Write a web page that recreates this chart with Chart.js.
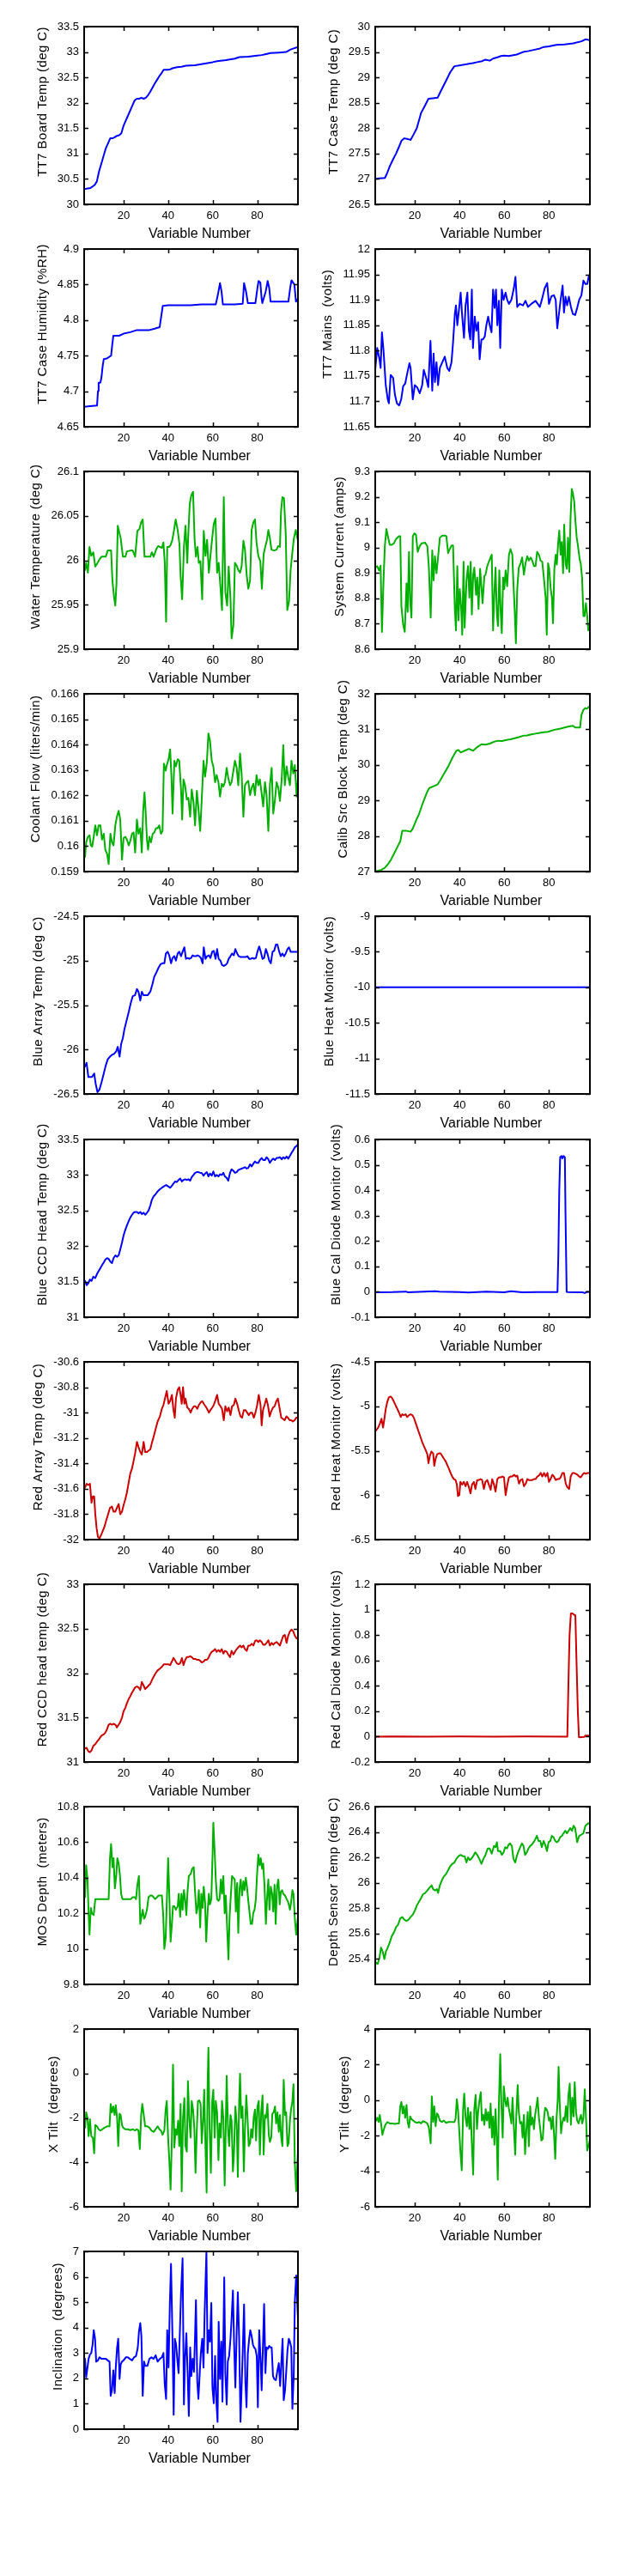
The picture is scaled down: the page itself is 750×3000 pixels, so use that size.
<!DOCTYPE html>
<html>
<head>
<meta charset="utf-8">
<script src="https://cdn.jsdelivr.net/npm/chart.js@4/dist/chart.umd.min.js"></script>
<style>
html,body{margin:0;padding:0;background:#fff;}
body{position:relative;width:750px;height:3000px;overflow:hidden;}
canvas{position:absolute;}
</style>
</head>
<body>
<script>
// ---------- axis ticks / labels ----------
const xTickValues = [20, 40, 60, 80];
const xAxisTitle = 'Variable Number';

const boardTempTicks = [30, 30.5, 31, 31.5, 32, 32.5, 33, 33.5];
const caseTempTicks = [26.5, 27, 27.5, 28, 28.5, 29, 29.5, 30];
const humidityTicks = [4.65, 4.7, 4.75, 4.8, 4.85, 4.9];
const mainsTicks = [11.65, 11.7, 11.75, 11.8, 11.85, 11.9, 11.95, 12];
const waterTicks = [25.9, 25.95, 26, 26.05, 26.1];
const currentTicks = [8.6, 8.7, 8.8, 8.9, 9, 9.1, 9.2, 9.3];
const coolantTicks = [0.159, 0.16, 0.161, 0.162, 0.163, 0.164, 0.165, 0.166];
const calibTicks = [27, 28, 29, 30, 31, 32];
const blueArrayTicks = [-26.5, -26, -25.5, -25, -24.5];
const blueHeatTicks = [-11.5, -11, -10.5, -10, -9.5, -9];
const blueCcdTicks = [31, 31.5, 32, 32.5, 33, 33.5];
const blueCalTicks = [-0.1, 0, 0.1, 0.2, 0.3, 0.4, 0.5, 0.6];
const redArrayTicks = [-32, -31.8, -31.6, -31.4, -31.2, -31, -30.8, -30.6];
const redHeatTicks = [-6.5, -6, -5.5, -5, -4.5];
const redCcdTicks = [31, 31.5, 32, 32.5, 33];
const redCalTicks = [-0.2, 0, 0.2, 0.4, 0.6, 0.8, 1, 1.2];
const mosTicks = [9.8, 10, 10.2, 10.4, 10.6, 10.8];
const depthTempTicks = [25.4, 25.6, 25.8, 26, 26.2, 26.4, 26.6];
const xTiltTicks = [-6, -4, -2, 0, 2];
const yTiltTicks = [-6, -4, -2, 0, 2, 4];
const inclinationTicks = [0, 1, 2, 3, 4, 5, 6, 7];

// ---------- series: [variable number, value] ----------
const boardTemp = [[2.3,30.3],[5,30.32],[7,30.38],[8,30.45],[9,30.65],[10,30.8],[11,30.95],[12,31.1],[13,31.2],[14,31.3],[15,31.3],[16,31.32],[17,31.35],[18,31.36],[19,31.4],[20,31.55],[21,31.65],[22,31.75],[23,31.85],[24,31.95],[25,32.05],[26,32.08],[27,32.08],[28,32.1],[29,32.08],[30,32.1],[31,32.15],[32,32.22],[33,32.3],[34,32.38],[35,32.45],[36,32.52],[37,32.58],[38,32.65],[40,32.65],[41,32.66],[42,32.68],[44,32.7],[46,32.71],[48,32.73],[52,32.74],[56,32.77],[60,32.8],[62,32.82],[66,32.84],[70,32.87],[72,32.9],[76,32.91],[80,32.93],[82,32.94],[84,32.96],[86,32.98],[90,32.99],[93,33.0],[95,33.05],[98.3,33.1]];

const caseTemp = [[2.3,27.0],[4,27.01],[6.6,27.02],[7.5,27.1],[8.8,27.25],[10.2,27.38],[11.6,27.5],[12.8,27.62],[14,27.75],[15.3,27.8],[16.5,27.79],[18.1,27.77],[19.5,27.88],[20.9,28.0],[22.8,28.3],[24.6,28.45],[26.1,28.58],[28,28.59],[30.2,28.6],[31.5,28.72],[33,28.85],[34.5,28.98],[35.8,29.1],[37.7,29.22],[40.5,29.24],[42,29.25],[44.2,29.27],[46,29.28],[47.9,29.3],[50,29.32],[51.6,29.35],[53.5,29.33],[55,29.37],[57.2,29.4],[58.5,29.42],[60,29.43],[62,29.42],[65.6,29.45],[68.4,29.5],[71,29.52],[74,29.55],[76,29.57],[77.7,29.6],[80,29.61],[83.3,29.64],[87,29.65],[90.8,29.67],[94.5,29.71],[96.3,29.75],[97.5,29.74],[98.3,29.73]];

const humidity = [[2.3,4.678],[5,4.679],[8.1,4.68],[8.5,4.7],[8.8,4.712],[9.6,4.712],[10.1,4.72],[10.6,4.735],[11.1,4.745],[12.5,4.746],[14.4,4.75],[14.9,4.765],[15.4,4.778],[18,4.778],[20,4.781],[23,4.783],[26,4.786],[28,4.786],[31.6,4.786],[34,4.788],[36.2,4.79],[36.9,4.805],[37.6,4.82],[40,4.821],[45,4.821],[50,4.821],[55,4.822],[61.4,4.822],[62.3,4.835],[63.3,4.852],[64,4.84],[64.6,4.822],[70,4.822],[73.5,4.823],[74.1,4.852],[75,4.84],[75.8,4.824],[79.2,4.824],[80.1,4.845],[80.6,4.855],[81.4,4.853],[82,4.83],[82.3,4.824],[83.8,4.84],[84.7,4.855],[85.4,4.845],[86,4.826],[90,4.826],[94,4.826],[94.8,4.845],[95.4,4.856],[96.7,4.85],[97.4,4.826],[98.3,4.83]];

const mains = [[2.3,11.763],[3.2,11.805],[4.2,11.783],[4.7,11.766],[5.3,11.836],[6,11.8],[7,11.732],[7.9,11.704],[8.4,11.696],[9.2,11.752],[10.3,11.746],[11.1,11.713],[12,11.696],[13,11.692],[13.9,11.704],[14.8,11.73],[15.7,11.735],[16.6,11.755],[17.6,11.775],[18.1,11.766],[19.1,11.704],[20,11.732],[21,11.728],[22.2,11.716],[23.3,11.732],[24,11.762],[25.2,11.744],[26,11.728],[27,11.819],[27.8,11.721],[28.4,11.794],[29,11.738],[29.7,11.777],[30.4,11.732],[31.2,11.766],[32.3,11.777],[33.4,11.788],[34.5,11.766],[35.4,11.76],[36.4,11.777],[37.1,11.816],[37.9,11.872],[38.4,11.889],[39,11.85],[39.7,11.878],[40.5,11.914],[41.2,11.867],[42,11.825],[42.7,11.889],[43.5,11.914],[44.2,11.839],[44.8,11.822],[45.5,11.92],[46,11.805],[46.8,11.867],[47.5,11.839],[48.3,11.856],[49,11.783],[49.8,11.822],[50.5,11.822],[51.3,11.828],[52,11.85],[52.8,11.867],[53.5,11.85],[54.3,11.836],[55,11.92],[55.7,11.884],[56.3,11.92],[56.9,11.85],[57.6,11.898],[58.2,11.805],[58.9,11.92],[59.7,11.9],[60.6,11.914],[61.3,11.9],[62.1,11.892],[63.2,11.9],[64.3,11.923],[65,11.945],[65.8,11.886],[66.9,11.892],[68.4,11.889],[69.5,11.898],[70.6,11.886],[72.1,11.892],[74,11.898],[75.9,11.886],[76.8,11.9],[78.1,11.923],[79.2,11.933],[80,11.892],[81.1,11.907],[82.2,11.909],[83,11.9],[83.7,11.844],[84.4,11.87],[85.2,11.9],[86.1,11.928],[86.7,11.875],[87.4,11.906],[88.1,11.889],[88.9,11.906],[89.8,11.886],[90.7,11.872],[91.7,11.87],[92.6,11.884],[93.5,11.9],[94.5,11.909],[95.4,11.938],[96.3,11.931],[97.1,11.931],[97.9,11.948],[98.3,11.95]];

const waterTemp = [[2.3,25.99],[2.7,25.989],[3.2,25.997],[4,25.986],[4.7,26.015],[5.5,26.005],[6.4,26.009],[7.3,25.993],[8.3,25.997],[9.2,26.001],[10.1,26.004],[12,26.004],[12.9,26.011],[14.4,26.011],[15,25.977],[15.7,25.959],[16.3,25.949],[16.8,25.973],[17.4,26.039],[18.2,26.03],[18.7,26.025],[19.7,26.004],[20.8,26.004],[21.5,26.01],[23.2,26.011],[24.1,26.011],[25.2,26.004],[26.2,26.033],[27.1,26.035],[27.9,26.043],[28.6,26.046],[29.4,26.004],[30.8,26.004],[32,26.004],[32.7,26.009],[33.5,26.004],[34.6,26.012],[35.5,26.016],[36.4,26.015],[37.2,26.014],[37.9,26.02],[38.5,25.997],[39.1,25.931],[39.6,26.015],[40.4,26.015],[41.1,26.017],[41.9,26.023],[42.6,26.033],[43.4,26.046],[44.3,26.034],[45.1,26.018],[45.6,25.983],[46.3,25.956],[47.1,26.015],[47.8,26.039],[48.6,25.997],[49.1,26.031],[49.7,26.063],[50.4,26.073],[51.2,26.077],[51.9,26.023],[52.5,26.004],[53.2,26.015],[53.8,25.997],[54.5,25.999],[55.3,25.956],[56,26.033],[56.8,26.005],[57.5,26.023],[58.3,25.986],[59,26.005],[59.8,26.025],[60.5,26.041],[61.3,26.047],[62,25.986],[62.7,25.997],[63.5,25.97],[64.2,25.944],[65,26.071],[65.7,25.964],[66.5,25.949],[67.2,25.993],[68,25.957],[68.5,25.912],[69.3,25.927],[70,25.997],[70.8,25.994],[71.5,25.989],[72.3,25.986],[73,25.993],[73.8,26.022],[74.5,26.012],[75.3,25.983],[76,25.968],[76.8,25.977],[77.5,26.034],[78.3,26.043],[79,26.046],[79.7,26.02],[80.5,26.005],[81.4,25.999],[82.1,25.968],[82.9,26.007],[83.6,26.015],[84.4,26.023],[85,26.034],[85.7,26.025],[86.4,26.012],[87.6,26.011],[88.7,26.012],[89.4,26.016],[90.2,26.015],[90.7,26.055],[91.3,26.071],[92,26.07],[92.8,26.031],[93.5,25.944],[94.3,25.954],[95,25.989],[95.8,26.009],[96.5,26.025],[97.3,26.034],[98.3,26.022]];

const systemCurrent = [[2.3,8.921],[3.2,8.927],[4,8.91],[4.7,8.929],[5.3,8.668],[6,8.871],[6.6,9.006],[7.3,9.073],[8.1,9.039],[8.8,9.011],[9.7,9.011],[10.7,9.017],[11.6,9.034],[12.9,9.045],[13.5,9.045],[14,8.769],[14.8,8.696],[15.5,8.668],[16.3,8.859],[16.8,8.747],[17.4,8.983],[17.9,8.792],[18.5,8.724],[19.1,9.045],[19.8,9.056],[20.5,9.051],[21.3,8.983],[22.2,9.006],[23.1,9.017],[24.6,9.019],[25.6,9.006],[26.3,8.921],[27.1,8.724],[27.8,8.989],[28.4,8.871],[29,8.966],[29.7,8.899],[30.2,8.944],[31.2,9.039],[32.3,9.047],[33.4,9.047],[34.1,9.045],[34.9,8.978],[35.6,8.994],[36.4,9.008],[37.1,9.008],[37.9,8.758],[38.4,8.674],[39,8.927],[39.5,8.713],[40.1,8.837],[40.7,8.769],[41.2,8.657],[41.8,8.944],[42.3,8.685],[43.1,8.871],[43.8,8.927],[44.4,8.803],[45,8.944],[45.5,8.736],[46.1,8.893],[46.6,8.921],[47.4,8.814],[47.9,8.882],[48.5,8.758],[49.2,8.916],[49.8,8.843],[50.3,8.781],[51.1,8.888],[51.6,8.893],[52.4,8.927],[53.1,8.944],[53.9,8.961],[54.4,8.972],[55,8.674],[55.6,8.826],[56.1,8.921],[56.7,8.736],[57.2,8.691],[57.8,8.91],[58.4,8.747],[58.9,8.663],[59.5,8.882],[60,8.837],[60.6,8.91],[61.3,8.848],[62.1,8.972],[62.8,8.994],[63.6,8.972],[64.1,8.859],[64.7,8.747],[65.2,8.623],[65.8,8.837],[66.5,8.921],[67.3,8.938],[68,8.961],[68.8,8.893],[69.5,8.938],[70.3,8.966],[71,8.949],[71.8,8.961],[72.5,8.949],[73.3,8.927],[74,8.927],[74.7,8.983],[75.5,8.972],[76.2,8.949],[77,8.944],[77.7,8.882],[78.5,8.803],[79,8.657],[79.6,8.938],[80.1,8.916],[80.7,8.843],[81.3,8.803],[81.8,8.702],[82.4,8.916],[83,8.972],[83.5,8.933],[84.1,9.017],[84.6,9.067],[85.2,8.972],[85.7,9.022],[86.3,8.899],[86.8,9.09],[87.4,8.938],[88,8.916],[88.5,9.039],[89.1,8.904],[89.6,9.107],[90.2,9.231],[90.7,9.214],[91.3,9.18],[91.8,9.107],[92.4,9.039],[92.9,9.011],[93.7,8.955],[94.2,8.938],[94.8,8.882],[95.4,8.73],[95.9,8.73],[96.5,8.781],[97.1,8.73],[97.6,8.674],[98.3,8.7]];

const coolantFlow = [[2.3,0.15955],[2.7,0.15958],[3.2,0.16015],[4,0.16037],[4.7,0.16043],[5.3,0.16003],[5.9,0.15998],[6.6,0.16037],[7.3,0.16082],[8.1,0.16043],[8.8,0.16082],[9.6,0.16082],[10.3,0.16026],[11.1,0.16049],[11.8,0.15986],[12.6,0.1597],[13.3,0.1593],[14.1,0.16049],[14.8,0.16015],[15.5,0.16003],[16.3,0.16082],[17,0.16116],[17.8,0.16139],[18.5,0.16105],[19.3,0.15947],[20,0.16032],[20.8,0.16037],[21.5,0.16026],[22.3,0.16003],[23,0.1602],[23.8,0.16049],[24.5,0.16054],[25.2,0.15975],[26,0.16105],[26.7,0.16049],[27.5,0.16071],[28.2,0.15975],[28.8,0.16139],[29.4,0.16212],[29.9,0.16139],[30.5,0.16026],[31,0.15986],[31.6,0.16037],[32.3,0.16015],[33.1,0.16049],[33.8,0.16054],[34.6,0.16071],[35.3,0.16071],[36,0.16082],[36.8,0.16049],[37.5,0.1606],[38.1,0.16325],[38.9,0.16297],[39.4,0.16319],[40.2,0.16342],[40.9,0.16381],[41.5,0.16274],[42,0.16128],[42.8,0.16336],[43.5,0.16314],[44.3,0.16342],[45,0.16336],[45.8,0.16223],[46.3,0.16105],[46.9,0.16263],[47.6,0.1624],[48.4,0.16184],[49.1,0.1619],[49.9,0.16116],[50.6,0.16223],[51.4,0.16173],[52.1,0.16082],[52.9,0.16218],[53.6,0.1615],[54.4,0.1606],[55.1,0.16184],[55.9,0.16336],[56.6,0.16274],[57.4,0.16331],[58.1,0.16444],[58.8,0.16415],[59.6,0.16336],[60.3,0.16314],[61.1,0.16252],[61.8,0.1628],[62.6,0.16252],[63.3,0.16195],[64.1,0.16246],[64.8,0.16235],[65.5,0.16252],[66.3,0.16308],[67,0.16269],[67.8,0.1624],[68.5,0.16252],[69.3,0.16297],[70,0.16336],[70.8,0.16308],[71.5,0.1624],[72.3,0.16365],[73,0.16286],[73.8,0.16116],[74.5,0.1624],[75.3,0.16252],[76,0.16257],[76.8,0.16201],[77.5,0.16229],[78.3,0.16246],[79,0.16201],[79.7,0.1628],[80.5,0.1624],[81.2,0.16263],[82,0.16207],[82.7,0.16156],[83.5,0.16252],[84.2,0.16201],[85,0.1606],[85.7,0.1624],[86.5,0.16308],[87.2,0.16128],[88,0.16184],[88.7,0.16252],[89.5,0.16229],[90.2,0.16178],[91,0.16263],[91.7,0.16398],[92.4,0.1624],[93.2,0.16314],[93.9,0.16274],[94.7,0.1624],[95.4,0.16336],[96.2,0.16286],[96.9,0.16319],[97.7,0.16195],[98.3,0.16263]];

const calibSrcTemp = [[2.3,27.0],[5.1,27.05],[6.5,27.1],[7.9,27.2],[9.3,27.33],[10.7,27.5],[12.1,27.68],[13.5,27.85],[14.4,28.15],[16,28.15],[18.1,28.12],[19,28.2],[20,28.35],[21,28.5],[21.8,28.6],[23.7,28.95],[25.6,29.25],[26.5,29.35],[28.4,29.4],[30.2,29.45],[31.2,29.55],[33,29.75],[34.9,29.95],[36.8,30.2],[38.6,30.4],[39.5,30.42],[40.5,30.35],[42.3,30.4],[44.2,30.45],[46.1,30.4],[47.9,30.5],[49.8,30.58],[51.5,30.57],[53.5,30.6],[55.4,30.65],[57.2,30.68],[59,30.67],[61,30.7],[62.8,30.72],[64.7,30.75],[66.5,30.78],[68.4,30.82],[70.2,30.83],[72.1,30.86],[74,30.88],[75.9,30.9],[77.7,30.92],[79.6,30.93],[81.5,30.97],[83.3,31.0],[85.2,31.02],[87,31.05],[88.9,31.08],[90.7,31.1],[91.7,31.05],[93.9,31.05],[94.5,31.4],[95.4,31.55],[96.3,31.6],[97,31.58],[97.8,31.63],[98.3,31.62]];

const blueArrayTemp = [[2.3,-26.2],[2.7,-26.19],[3.4,-26.15],[4.2,-26.31],[5.1,-26.31],[5.8,-26.31],[6.8,-26.27],[7.5,-26.39],[8.3,-26.48],[9.2,-26.45],[10.1,-26.37],[11.1,-26.27],[12,-26.18],[12.9,-26.11],[13.9,-26.08],[14.8,-26.06],[15.7,-26.05],[16.7,-26.02],[17.4,-25.97],[18.2,-26.08],[18.9,-25.94],[19.7,-25.87],[20.4,-25.77],[21.3,-25.68],[22.3,-25.58],[23.2,-25.48],[24.1,-25.4],[25.1,-25.39],[26,-25.32],[26.7,-25.35],[27.5,-25.45],[28.2,-25.35],[29,-25.39],[29.7,-25.39],[30.8,-25.39],[32,-25.35],[32.9,-25.27],[33.8,-25.18],[34.8,-25.13],[35.7,-25.08],[36.6,-25.04],[37.5,-25.03],[38.3,-25.03],[39,-24.92],[39.8,-24.9],[40.5,-24.94],[41.3,-25.03],[42,-24.97],[42.8,-24.95],[43.5,-25.0],[44.3,-24.92],[45,-24.9],[45.8,-24.95],[46.5,-24.9],[47.3,-24.85],[48,-24.98],[48.8,-24.97],[49.5,-24.98],[50.3,-24.97],[51,-24.94],[51.7,-24.95],[52.5,-24.95],[53.2,-24.94],[54,-24.95],[54.7,-24.97],[55.5,-25.03],[56,-24.85],[56.8,-24.98],[57.5,-24.95],[58.3,-24.94],[59,-24.97],[59.8,-24.9],[60.5,-24.89],[61.3,-24.98],[62,-24.87],[62.7,-24.98],[63.5,-25.0],[64.2,-25.05],[65,-25.06],[65.7,-25.05],[66.5,-25.03],[67.2,-24.98],[68,-24.95],[68.7,-24.92],[69.5,-24.94],[70.2,-24.87],[71,-24.92],[71.7,-24.95],[72.6,-24.96],[73.8,-24.96],[74.9,-24.96],[75.6,-24.95],[76.4,-24.98],[77.1,-24.98],[77.9,-24.97],[78.6,-24.98],[79.4,-24.97],[80.1,-24.9],[80.9,-24.84],[81.6,-24.9],[82.4,-24.98],[83.1,-24.97],[83.9,-24.87],[84.6,-24.92],[85.4,-25.0],[86.1,-25.03],[86.9,-24.9],[87.6,-24.89],[88.4,-24.82],[89.1,-24.82],[89.9,-24.9],[90.6,-24.95],[91.3,-24.92],[92.1,-24.95],[92.8,-24.92],[93.6,-24.87],[94.3,-24.85],[95,-24.9],[96.2,-24.9],[97.3,-24.9],[98.3,-24.9]];

const blueHeatMonitor = [[2.3,-10],[20,-10],[40,-10],[60,-10],[80,-10],[98.3,-10]];

const blueCcdTemp = [[2.3,31.52],[2.7,31.51],[3.4,31.45],[4.2,31.48],[4.9,31.53],[5.6,31.51],[6.4,31.57],[7.3,31.55],[8.1,31.61],[8.8,31.65],[9.6,31.69],[10.3,31.73],[11.1,31.77],[11.8,31.81],[12.6,31.83],[13.3,31.82],[14.1,31.78],[14.8,31.76],[15.5,31.83],[16.3,31.87],[17,31.85],[17.8,31.87],[18.5,31.95],[19.3,32.05],[20,32.15],[20.8,32.23],[21.5,32.29],[22.3,32.35],[23,32.4],[23.8,32.44],[24.5,32.47],[25.2,32.48],[26,32.48],[26.7,32.46],[27.5,32.48],[28.2,32.45],[29,32.47],[29.7,32.44],[30.5,32.47],[31.2,32.5],[32,32.57],[32.7,32.65],[33.5,32.7],[34.4,32.73],[35.3,32.77],[36.3,32.8],[37.2,32.82],[38.1,32.84],[39.1,32.86],[40,32.84],[40.9,32.82],[41.7,32.85],[42.4,32.88],[43.2,32.91],[43.9,32.9],[44.7,32.93],[45.4,32.95],[46.2,32.91],[46.9,32.93],[47.7,32.94],[48.4,32.93],[49.1,32.94],[49.9,32.92],[50.6,32.97],[51.4,33.0],[52.1,33.03],[52.9,33.04],[53.6,33.04],[54.4,33.03],[55.1,33.03],[55.9,32.99],[56.6,33.02],[57.4,33.04],[58.1,32.98],[58.8,33.02],[59.6,32.99],[60.3,33.05],[61.1,32.98],[61.8,33.0],[62.6,32.98],[63.3,33.01],[64.1,33.0],[64.8,33.03],[65.5,32.98],[66.3,32.96],[67,32.92],[67.8,33.03],[68.5,33.08],[69.3,33.06],[70,33.03],[70.8,33.04],[71.5,33.07],[72.3,33.08],[73,33.09],[73.8,33.1],[74.5,33.11],[75.3,33.09],[76,33.1],[76.8,33.15],[77.5,33.12],[78.3,33.16],[79,33.19],[79.7,33.17],[80.5,33.17],[81.2,33.21],[82,33.24],[82.7,33.21],[83.5,33.21],[84.2,33.25],[85,33.22],[85.7,33.17],[86.5,33.21],[87.2,33.23],[88,33.21],[88.7,33.24],[89.5,33.24],[90.2,33.25],[91,33.22],[91.7,33.25],[92.4,33.23],[93.2,33.26],[93.9,33.23],[94.7,33.27],[95.4,33.31],[96.2,33.35],[96.9,33.39],[97.7,33.41],[98.3,33.43]];

const blueCalDiode = [[2.3,-0.002],[10,-0.001],[16,0.001],[17,-0.002],[29,0.002],[31,0.001],[40,-0.001],[44,-0.003],[52,0.001],[60,-0.002],[63,0.002],[68,-0.002],[75,-0.001],[83.8,-0.001],[84.2,0.15],[84.6,0.4],[85,0.53],[85.6,0.535],[86,0.525],[86.5,0.535],[87.1,0.53],[87.4,0.3],[87.9,0.0],[88.5,-0.001],[95,-0.002],[96,-0.005],[97,0.0],[98.3,0.0]];

const redArrayTemp = [[2.3,-31.6],[2.7,-31.59],[3.4,-31.56],[4.2,-31.57],[4.9,-31.56],[5.6,-31.71],[6.2,-31.66],[6.8,-31.66],[7.3,-31.8],[7.9,-31.91],[8.5,-31.98],[9.2,-31.99],[10,-31.96],[10.7,-31.93],[11.4,-31.9],[12.2,-31.85],[12.9,-31.81],[13.9,-31.75],[14.8,-31.74],[15.5,-31.78],[16.3,-31.78],[17,-31.75],[17.8,-31.72],[18.5,-31.8],[19.3,-31.78],[20,-31.73],[20.8,-31.68],[21.5,-31.63],[22.3,-31.55],[23,-31.48],[23.8,-31.44],[24.5,-31.38],[25.2,-31.32],[26,-31.23],[26.7,-31.27],[27.5,-31.31],[28.2,-31.33],[29,-31.23],[29.7,-31.31],[30.5,-31.31],[31.2,-31.3],[32,-31.29],[32.7,-31.24],[33.5,-31.19],[34.4,-31.13],[35.3,-31.07],[36.3,-31.03],[37.2,-30.97],[37.9,-30.94],[38.7,-30.88],[39.4,-30.83],[40.2,-30.93],[40.9,-30.91],[41.7,-30.86],[42.4,-30.98],[43,-31.04],[43.5,-30.89],[44.3,-30.82],[45,-30.8],[45.6,-30.86],[46.1,-30.93],[46.7,-30.8],[47.3,-30.93],[47.8,-30.89],[48.6,-30.96],[49.3,-30.97],[50.1,-31.0],[50.8,-30.97],[51.6,-30.95],[52.3,-30.95],[53.1,-30.97],[53.8,-30.94],[54.6,-30.92],[55.3,-30.91],[56,-30.93],[56.8,-30.95],[57.5,-30.97],[58.3,-31.0],[59,-30.98],[59.8,-30.96],[60.5,-30.94],[61.3,-30.9],[62,-30.86],[62.7,-30.93],[63.5,-30.95],[64.2,-30.97],[65,-31.06],[65.7,-30.95],[66.5,-30.99],[67.2,-30.96],[68,-31.02],[68.7,-30.95],[69.5,-30.94],[70.2,-30.89],[71,-30.93],[71.7,-30.98],[72.5,-31.03],[73.2,-31.04],[74,-30.98],[74.7,-30.98],[75.5,-31.0],[76.2,-31.02],[77,-31.0],[77.7,-31.0],[78.5,-31.04],[79.2,-31.0],[80,-30.94],[80.7,-30.86],[81.5,-30.94],[82,-31.1],[82.6,-30.98],[83.3,-30.94],[84.1,-30.89],[84.8,-30.94],[85.6,-31.03],[86.3,-30.99],[87.1,-30.96],[87.8,-30.95],[88.6,-30.91],[89.3,-30.89],[90.1,-30.97],[90.8,-31.04],[91.6,-31.05],[92.3,-31.06],[93.1,-31.03],[93.8,-31.04],[94.6,-31.06],[95.3,-31.06],[96,-31.07],[96.8,-31.06],[97.5,-31.04],[98.3,-31.04]];

const redHeatMonitor = [[2.3,-5.28],[2.7,-5.27],[3.6,-5.24],[4.3,-5.2],[5.1,-5.14],[5.8,-5.24],[6.4,-5.14],[7,-5.03],[7.7,-4.95],[8.4,-4.9],[9.2,-4.89],[9.9,-4.91],[10.7,-4.95],[11.4,-4.99],[12.2,-5.03],[12.9,-5.07],[13.7,-5.12],[14.4,-5.09],[15.1,-5.1],[15.9,-5.09],[16.6,-5.12],[17.4,-5.1],[18.1,-5.09],[18.9,-5.1],[19.6,-5.13],[20.4,-5.19],[21.1,-5.24],[21.9,-5.3],[22.6,-5.35],[23.4,-5.41],[24.1,-5.45],[24.8,-5.49],[25.6,-5.54],[26.1,-5.64],[26.7,-5.56],[27.4,-5.51],[28.2,-5.53],[28.7,-5.67],[29.3,-5.59],[30,-5.54],[30.8,-5.53],[31.5,-5.53],[32.3,-5.56],[33,-5.59],[33.8,-5.62],[34.5,-5.66],[35.2,-5.7],[36,-5.75],[36.7,-5.79],[37.5,-5.82],[38.2,-5.83],[38.8,-5.88],[39.3,-6.01],[39.9,-6.0],[40.4,-5.85],[41.2,-5.88],[41.9,-5.85],[42.7,-5.9],[43.4,-5.85],[44.2,-5.91],[44.9,-5.98],[45.6,-5.88],[46.4,-5.85],[47.1,-5.93],[47.9,-5.83],[48.6,-5.83],[49.4,-5.82],[50.1,-5.83],[50.9,-5.93],[51.6,-5.85],[52.4,-5.83],[53.1,-5.88],[53.9,-5.94],[54.6,-5.82],[55.4,-5.88],[56.1,-5.96],[56.9,-5.82],[57.6,-5.8],[58.4,-5.8],[59.1,-5.79],[59.9,-5.8],[60.6,-6.0],[61.4,-5.88],[62.1,-5.8],[62.9,-5.79],[63.6,-5.79],[64.4,-5.77],[65.1,-5.79],[65.8,-5.78],[66.6,-5.87],[67.3,-5.83],[68.1,-5.82],[68.8,-5.9],[69.6,-5.87],[70.3,-5.82],[71,-5.83],[71.8,-5.83],[72.5,-5.83],[73.3,-5.82],[74,-5.82],[74.8,-5.79],[75.5,-5.78],[76.3,-5.75],[77,-5.79],[77.8,-5.75],[78.5,-5.79],[79.3,-5.75],[80,-5.85],[80.7,-5.82],[81.5,-5.77],[82.2,-5.79],[83,-5.83],[83.7,-5.82],[84.5,-5.82],[85.2,-5.8],[86,-5.75],[86.7,-5.75],[87.5,-5.87],[88.2,-5.91],[89,-5.93],[89.7,-5.79],[90.5,-5.75],[91.2,-5.75],[92,-5.76],[92.7,-5.77],[93.5,-5.79],[94.2,-5.8],[95,-5.77],[95.7,-5.75],[96.5,-5.76],[97.2,-5.75],[98.3,-5.75]];

const redCcdTemp = [[2.3,31.15],[2.7,31.15],[3.4,31.16],[4.2,31.12],[4.9,31.11],[5.6,31.13],[6.4,31.18],[7.3,31.2],[8.1,31.23],[8.8,31.25],[9.6,31.28],[10.3,31.3],[11.1,31.31],[11.8,31.33],[12.6,31.37],[13.3,31.42],[14.1,31.43],[14.8,31.42],[15.5,31.43],[16.3,31.42],[17,31.39],[17.8,31.42],[18.5,31.45],[19.3,31.5],[20,31.57],[20.8,31.61],[21.5,31.66],[22.3,31.71],[23,31.74],[23.8,31.78],[24.5,31.81],[25.2,31.84],[26,31.85],[26.7,31.84],[27.5,31.81],[28.2,31.9],[29,31.86],[29.7,31.82],[30.5,31.84],[31.2,31.86],[32,31.88],[32.7,31.92],[33.5,31.96],[34.4,32.0],[35.3,32.03],[36.3,32.05],[37.2,32.07],[38.1,32.1],[39.1,32.1],[40,32.1],[40.9,32.09],[41.7,32.13],[42.4,32.17],[43.2,32.14],[43.9,32.11],[44.7,32.1],[45.4,32.11],[46.2,32.17],[46.9,32.09],[47.7,32.15],[48.4,32.18],[49.1,32.18],[49.9,32.19],[50.6,32.18],[51.4,32.16],[52.1,32.16],[52.9,32.15],[53.6,32.15],[54.4,32.14],[55.1,32.12],[55.9,32.13],[56.6,32.15],[57.4,32.15],[58.1,32.17],[58.8,32.21],[59.6,32.24],[60.3,32.25],[61.1,32.27],[61.8,32.24],[62.6,32.26],[63.3,32.24],[64.1,32.27],[64.8,32.22],[65.5,32.25],[66.3,32.24],[67,32.21],[67.8,32.18],[68.5,32.25],[69.3,32.21],[70,32.24],[70.8,32.27],[71.5,32.29],[72.3,32.31],[73,32.29],[73.8,32.31],[74.5,32.27],[75.3,32.25],[76,32.31],[76.8,32.31],[77.5,32.33],[78.3,32.31],[79,32.36],[79.7,32.37],[80.5,32.35],[81.2,32.37],[82,32.35],[82.7,32.32],[83.5,32.32],[84.2,32.34],[85,32.37],[85.7,32.31],[86.5,32.34],[87.2,32.32],[88,32.34],[88.7,32.35],[89.5,32.33],[90.2,32.31],[91,32.37],[91.7,32.42],[92.4,32.43],[93.2,32.34],[93.9,32.42],[94.7,32.47],[95.4,32.49],[96.2,32.47],[96.9,32.42],[97.7,32.39],[98.3,32.39]];

const redCalDiode = [[2.3,0],[10,0.002],[25,0],[40,0.001],[55,0],[70,0.001],[88.2,0],[88.8,0.5],[89.2,0.8],[89.8,0.97],[90.5,0.97],[91.2,0.96],[91.8,0.955],[92.3,0.6],[92.9,0.2],[93.4,-0.005],[95.8,-0.003],[96.3,0.008],[98.3,0.008]];

const mosDepth = [[2.3,10.3],[2.7,10.29],[3.2,10.47],[3.8,10.39],[4.3,10.2],[4.7,10.08],[5.3,10.23],[5.8,10.2],[6.6,10.19],[7.3,10.28],[9.2,10.28],[11.1,10.28],[13.3,10.28],[13.9,10.51],[14.4,10.59],[15,10.46],[15.5,10.51],[16.1,10.34],[16.7,10.41],[17.2,10.51],[17.8,10.48],[18.4,10.41],[18.9,10.31],[19.5,10.28],[20.4,10.28],[21.3,10.28],[22.3,10.28],[23.2,10.28],[24.1,10.29],[25.1,10.29],[25.6,10.28],[26.2,10.36],[26.9,10.41],[27.5,10.14],[28,10.18],[28.6,10.22],[29.2,10.17],[29.7,10.18],[30.5,10.22],[31.2,10.29],[32,10.3],[32.7,10.3],[33.5,10.29],[34.2,10.28],[35,10.29],[35.7,10.3],[36.5,10.3],[37.2,10.3],[37.8,10.19],[38.3,10.0],[38.9,10.06],[39.5,10.3],[40,10.51],[40.6,10.28],[41.1,10.04],[41.7,10.14],[42.2,10.24],[42.8,10.24],[43.5,10.22],[44.3,10.24],[44.8,10.31],[45.4,10.18],[46,10.31],[46.5,10.22],[47.1,10.33],[47.6,10.28],[48.2,10.19],[48.7,10.32],[49.3,10.41],[50.1,10.42],[50.8,10.45],[51.5,10.46],[52.1,10.32],[52.7,10.2],[53.2,10.23],[53.8,10.33],[54.4,10.12],[54.9,10.31],[55.5,10.23],[56,10.35],[56.6,10.26],[57.1,10.04],[57.7,10.2],[58.3,10.31],[58.8,10.25],[59.4,10.28],[60,10.55],[60.3,10.71],[60.9,10.55],[61.4,10.39],[62,10.28],[62.6,10.27],[63.1,10.28],[63.7,10.39],[64.2,10.31],[64.8,10.41],[65.4,10.2],[65.9,10.3],[66.5,10.12],[67.1,9.94],[67.6,10.18],[68.2,10.31],[68.7,10.41],[69.3,10.4],[69.9,10.39],[70.4,10.21],[71,10.37],[71.5,10.09],[72.1,10.34],[72.6,10.39],[73.2,10.3],[73.8,10.38],[74.3,10.33],[74.9,10.4],[75.4,10.35],[76,10.27],[76.6,10.2],[77.1,10.14],[77.7,10.14],[78.2,10.2],[78.8,10.22],[79.4,10.28],[79.9,10.41],[80.5,10.53],[81.1,10.47],[81.6,10.51],[82.2,10.45],[82.7,10.48],[83.3,10.35],[83.9,10.14],[84.4,10.28],[85,10.39],[85.5,10.22],[86.1,10.35],[86.7,10.31],[87.2,10.21],[87.8,10.36],[88.3,10.14],[88.9,10.35],[89.5,10.39],[90.1,10.25],[90.6,10.32],[91.2,10.33],[91.7,10.31],[92.5,10.3],[93.2,10.28],[94,10.26],[94.7,10.22],[95.2,10.26],[95.8,10.33],[96.3,10.31],[96.9,10.17],[97.5,10.08],[98.3,10.18]];

const depthSensorTemp = [[2.3,25.38],[2.7,25.37],[3.4,25.36],[4.2,25.41],[4.9,25.49],[5.6,25.46],[6.4,25.4],[7.1,25.46],[7.9,25.49],[8.8,25.53],[9.7,25.58],[10.7,25.61],[11.6,25.65],[12.5,25.67],[13.5,25.72],[14.4,25.73],[15.3,25.71],[16.3,25.7],[17.2,25.71],[18.1,25.73],[19.1,25.75],[20,25.78],[20.9,25.82],[21.8,25.85],[22.8,25.88],[23.7,25.91],[24.6,25.92],[25.6,25.94],[26.5,25.96],[27.5,25.98],[28.2,25.95],[29,25.94],[29.9,25.95],[30.4,25.92],[31.2,25.98],[32.1,26.02],[33,26.05],[34,26.07],[34.9,26.1],[35.8,26.13],[36.8,26.15],[37.7,26.16],[38.6,26.19],[39.6,26.21],[40.5,26.22],[41.4,26.21],[42.3,26.21],[43.1,26.16],[43.8,26.2],[44.6,26.18],[45.3,26.19],[46.1,26.21],[47,26.24],[47.9,26.22],[48.8,26.19],[49.8,26.15],[50.7,26.19],[51.6,26.22],[52.6,26.27],[53.5,26.27],[54.4,26.23],[55.4,26.29],[56.1,26.28],[56.7,26.32],[57.2,26.25],[58.2,26.25],[58.9,26.22],[59.7,26.24],[60.4,26.28],[61.2,26.27],[61.9,26.3],[62.6,26.31],[63.4,26.29],[64.1,26.19],[64.9,26.16],[65.6,26.21],[66.4,26.25],[67.1,26.28],[67.9,26.31],[68.6,26.29],[69.3,26.22],[70.1,26.24],[70.8,26.27],[71.6,26.29],[72.3,26.3],[73.1,26.32],[73.8,26.34],[74.6,26.37],[75.3,26.33],[76.1,26.33],[76.8,26.28],[77.6,26.33],[78.3,26.3],[79.1,26.25],[79.8,26.32],[80.6,26.33],[81.3,26.37],[82,26.36],[82.8,26.33],[83.5,26.32],[84.3,26.33],[85,26.36],[85.8,26.37],[86.5,26.39],[87.3,26.41],[88,26.39],[88.8,26.41],[89.5,26.43],[90.3,26.41],[91,26.45],[91.7,26.43],[92.6,26.32],[93.5,26.37],[94.5,26.38],[95.4,26.39],[96.3,26.45],[97.6,26.47],[98.3,26.46]];

const xTilt = [[2.3,-2.3],[2.7,-2.44],[3.2,-1.75],[3.8,-2.0],[4.3,-2.82],[4.9,-2.06],[5.5,-2.82],[6.2,-2.89],[6.8,-3.59],[7.3,-2.32],[8.1,-2.38],[8.8,-2.51],[9.6,-2.57],[10.5,-2.51],[11.4,-2.44],[12.6,-2.38],[13.7,-2.38],[14.2,-1.37],[14.8,-1.75],[15.4,-1.49],[16,-1.87],[16.5,-1.43],[17.1,-2.0],[17.6,-3.27],[18.2,-1.81],[18.7,-1.87],[19.3,-2.32],[19.8,-2.44],[20.8,-2.51],[21.9,-2.51],[23,-2.55],[24.1,-2.51],[25.1,-2.57],[26,-2.51],[26.7,-2.57],[27.3,-3.4],[27.9,-1.87],[28.4,-1.37],[29,-1.81],[29.7,-2.38],[30.7,-2.38],[31.6,-2.44],[32.5,-2.57],[33.5,-2.63],[34.4,-2.51],[35.3,-2.38],[36.1,-2.51],[36.8,-2.57],[37.5,-2.76],[38.3,-2.57],[38.9,-1.62],[39.4,-1.24],[40,-2.89],[40.6,-4.03],[41.1,-5.23],[41.7,-2.89],[42.2,0.4],[42.8,-3.33],[43.4,-2.51],[43.9,-2.76],[44.5,-2.13],[45,-3.27],[45.6,-1.37],[46.1,-5.3],[46.7,-2.0],[47.3,-1.11],[47.8,-3.27],[48.4,-3.52],[48.9,-0.35],[49.5,-2.06],[50.1,-2.89],[50.6,-1.24],[51.2,-1.62],[51.8,-2.51],[52.3,-4.47],[52.9,-2.51],[53.4,-1.24],[54,-1.21],[54.6,-1.37],[55.1,-3.14],[55.7,-2.13],[56.2,-0.73],[56.8,-3.4],[57.3,-5.36],[57.7,-0.73],[58.1,1.16],[58.6,-2.38],[59.2,-4.47],[59.8,-1.24],[60.3,-0.73],[60.9,-2.89],[61.4,-1.24],[62,-1.75],[62.6,-3.9],[63.1,-2.25],[63.7,-2.89],[64.2,-1.24],[64.8,-2.0],[65.4,-5.04],[65.9,-2.25],[66.3,-0.11],[66.9,-2.51],[67.4,-3.27],[68,-1.87],[68.5,-2.13],[69.1,-4.41],[69.6,-3.52],[70.2,-1.49],[70.8,-2.25],[71.3,-4.66],[71.9,-1.24],[72.3,-0.01],[72.8,-2.0],[73.4,-1.49],[74,-4.41],[74.5,-2.51],[75.1,-0.99],[75.6,-1.87],[76.2,-3.27],[76.8,-3.14],[77.3,-2.51],[77.9,-2.89],[78.4,-2.0],[79,-1.62],[79.5,-3.01],[80.1,-1.49],[80.7,-1.24],[81.2,-3.65],[81.8,-1.75],[82.4,-0.99],[82.9,-3.65],[83.5,-1.87],[84,-2.0],[84.6,-1.37],[85.2,-2.76],[85.7,-3.08],[86.3,-2.89],[86.8,-1.81],[87.4,-1.75],[88,-1.49],[88.5,-2.25],[89.1,-1.75],[89.7,-2.63],[90.2,-1.87],[90.8,-2.89],[91.3,-3.27],[91.9,-0.29],[92.5,-1.87],[93,-1.75],[93.6,-3.27],[94.1,-3.14],[94.7,-2.13],[95.2,-1.62],[95.8,-1.24],[96.3,-0.48],[96.9,-4.03],[97.5,-5.3],[98.3,-3.52]];

const yTilt = [[2.3,-1.1],[2.7,-1.15],[3.2,-0.99],[3.8,-1.23],[4.3,-0.83],[4.9,-1.31],[5.5,-1.95],[6,-1.71],[6.8,-1.39],[7.7,-1.23],[8.8,-1.31],[9.9,-1.31],[11,-1.34],[12.1,-1.31],[12.9,-1.31],[13.5,-0.35],[14,-0.11],[14.6,-0.75],[15.1,-0.35],[15.7,-0.99],[16.3,-0.27],[16.8,-1.23],[17.4,-1.55],[17.9,-0.91],[18.5,-1.07],[19.3,-1.15],[20,-1.23],[21,-1.28],[21.9,-1.23],[22.8,-1.31],[23.7,-1.18],[24.6,-1.23],[25.6,-1.31],[26.3,-1.55],[27.1,-2.43],[27.6,0.21],[28.2,-1.23],[28.7,-0.35],[29.3,-1.47],[29.9,-0.75],[30.4,-0.83],[31.2,-1.15],[32.1,-1.23],[33,-1.15],[34,-1.28],[34.9,-1.23],[35.8,-1.23],[36.8,-1.23],[37.7,-1.23],[38.2,-1.07],[38.8,0.05],[39.3,-0.51],[39.9,-1.79],[40.4,-2.91],[41,-3.95],[41.6,-0.51],[42.1,0.37],[42.7,-0.99],[43.3,-1.47],[43.8,-0.43],[44.4,-1.63],[45,-0.67],[45.5,-2.43],[46.1,-4.19],[46.6,-0.51],[47.2,0.29],[47.8,-1.63],[48.3,-0.67],[48.9,-0.03],[49.5,0.45],[50,-1.15],[50.6,-0.83],[51.1,-1.39],[51.7,-0.51],[52.2,-1.15],[52.8,-0.67],[53.4,-1.55],[53.9,-0.19],[54.5,-2.11],[55,-0.91],[55.6,-2.51],[56.1,-0.51],[56.7,-2.43],[57.1,-4.48],[57.6,-0.19],[58.2,2.59],[58.7,-0.19],[59.3,-2.11],[59.8,0.77],[60.4,-0.03],[60.9,-0.35],[61.5,0.13],[62,-0.43],[62.6,-0.83],[63.2,-1.31],[63.7,0.13],[64.3,-1.55],[64.9,-3.07],[65.4,-0.83],[66,0.85],[66.5,-0.67],[67.1,-1.31],[67.7,-1.23],[68.2,-2.11],[68.8,-0.83],[69.3,-3.04],[69.9,-1.63],[70.5,-0.67],[71,-2.59],[71.6,-0.35],[72.1,-1.39],[72.7,-0.99],[73.3,-1.63],[73.8,-0.83],[74.4,-0.35],[74.9,0.13],[75.5,-0.99],[76.1,-1.63],[76.6,-2.27],[77.2,-2.19],[77.8,-0.99],[78.3,-0.43],[78.9,-0.51],[79.4,-0.67],[80,-1.15],[80.6,-0.99],[81.1,-1.63],[81.7,-0.91],[82.2,-1.79],[82.8,-3.31],[83.4,-0.99],[83.9,-0.03],[84.3,1.87],[84.8,-0.19],[85.4,-1.87],[85.9,-1.31],[86.5,-0.99],[87,-1.15],[87.6,-0.35],[88.2,-1.23],[88.7,0.29],[89.3,0.93],[89.8,-1.39],[90.4,0.13],[91,-0.91],[91.5,1.01],[92.1,-0.67],[92.6,-1.15],[93.2,-1.31],[93.7,-1.07],[94.3,-0.83],[94.9,-1.31],[95.4,-0.99],[96,0.61],[96.5,-0.83],[97.1,-2.83],[98.3,-2.27]];

const inclination = [[2.3,2.6],[2.7,2.77],[3.2,2.04],[3.8,2.43],[4.3,2.77],[4.9,2.94],[5.5,3.0],[6.1,3.33],[6.6,3.9],[7.2,3.56],[7.7,2.66],[8.5,2.71],[9.2,2.83],[10.1,2.77],[11.1,2.77],[12,2.77],[12.9,2.71],[13.7,2.66],[14.2,1.31],[14.8,1.53],[15.4,2.32],[16,1.42],[16.5,2.43],[17.1,3.22],[17.6,3.56],[18.2,1.98],[18.7,2.55],[19.3,2.66],[20,2.71],[21,2.83],[21.9,2.83],[22.8,2.77],[23.8,2.71],[24.7,2.83],[25.6,2.88],[26.4,3.22],[26.9,3.84],[27.5,4.18],[28,3.67],[28.6,1.31],[29.2,2.66],[29.7,2.49],[30.7,2.49],[31.6,2.77],[32.5,2.83],[33.5,2.77],[34.4,2.91],[35.3,2.66],[36.3,2.77],[37.2,2.83],[37.9,3.0],[38.5,1.76],[39.1,1.19],[39.6,3.9],[40.2,2.43],[40.8,5.02],[41.3,6.51],[41.9,3.9],[42.5,0.57],[43,3.56],[43.6,3.33],[44.1,2.77],[44.7,2.21],[45.3,3.9],[45.8,5.36],[46.5,6.73],[47.1,0.97],[47.6,2.77],[48.2,3.78],[48.8,2.09],[49.3,0.52],[49.9,3.22],[50.4,2.09],[51,2.77],[51.6,2.26],[52.1,3.67],[52.5,5.08],[53.1,1.87],[53.6,1.19],[54.2,2.21],[54.7,3.0],[55.3,3.56],[55.9,2.43],[56.4,4.57],[57.2,6.98],[57.7,3.0],[58.3,3.9],[58.8,3.45],[59.4,4.97],[59.9,1.64],[60.5,1.02],[61.1,2.88],[61.6,1.19],[62.2,0.29],[62.7,4.23],[63.3,1.98],[63.9,3.45],[64.4,1.08],[65.2,5.98],[65.7,2.21],[66.3,0.97],[66.8,2.66],[67.4,2.88],[68,3.56],[68.5,4.35],[69.1,5.46],[69.6,3.45],[70.2,1.64],[70.8,3.9],[71.3,5.39],[71.9,3.56],[72.5,0.29],[73,1.64],[73.6,3.33],[74.1,4.91],[74.7,1.87],[75.2,0.86],[75.8,3.0],[76.4,3.56],[76.9,3.9],[77.5,3.67],[78.1,3.33],[78.6,3.22],[79.2,3.16],[79.8,2.88],[80.3,0.86],[80.9,3.9],[81.5,2.77],[82,1.53],[82.6,3.33],[83.1,4.93],[83.7,2.21],[84.2,3.22],[84.8,3.16],[85.4,3.28],[85.9,3.22],[86.5,3.22],[87.1,2.09],[87.6,1.98],[88.4,1.93],[89.1,2.32],[89.7,2.6],[90.3,1.7],[90.8,2.55],[91.4,3.56],[91.9,1.14],[92.5,1.53],[93,2.21],[93.6,3.11],[94.2,3.56],[94.7,3.45],[95.3,3.22],[95.8,0.8],[96.4,2.09],[96.9,5.02],[97.5,6.05],[98.3,4.35]];

// ---------- panel table ----------
const BLUE = '#0000ff', GREEN = '#00b000', RED = '#cc0000';
const panels = [
  {title: 'TT7 Board Temp (deg C)', data: boardTemp, yTicks: boardTempTicks, color: BLUE},
  {title: 'TT7 Case Temp (deg C)', data: caseTemp, yTicks: caseTempTicks, color: BLUE},
  {title: 'TT7 Case Humidity (%RH)', data: humidity, yTicks: humidityTicks, color: BLUE},
  {title: 'TT7 Mains  (volts)', data: mains, yTicks: mainsTicks, color: BLUE},
  {title: 'Water Temperature (deg C)', data: waterTemp, yTicks: waterTicks, color: GREEN},
  {title: 'System Current (amps)', data: systemCurrent, yTicks: currentTicks, color: GREEN},
  {title: 'Coolant Flow (liters/min)', data: coolantFlow, yTicks: coolantTicks, color: GREEN},
  {title: 'Calib Src Block Temp (deg C)', data: calibSrcTemp, yTicks: calibTicks, color: GREEN},
  {title: 'Blue Array Temp (deg C)', data: blueArrayTemp, yTicks: blueArrayTicks, color: BLUE},
  {title: 'Blue Heat Monitor (volts)', data: blueHeatMonitor, yTicks: blueHeatTicks, color: BLUE},
  {title: 'Blue CCD Head Temp (deg C)', data: blueCcdTemp, yTicks: blueCcdTicks, color: BLUE},
  {title: 'Blue Cal Diode Monitor (volts)', data: blueCalDiode, yTicks: blueCalTicks, color: BLUE},
  {title: 'Red Array Temp (deg C)', data: redArrayTemp, yTicks: redArrayTicks, color: RED},
  {title: 'Red Heat Monitor (volts)', data: redHeatMonitor, yTicks: redHeatTicks, color: RED},
  {title: 'Red CCD head temp (deg C)', data: redCcdTemp, yTicks: redCcdTicks, color: RED},
  {title: 'Red Cal Diode Monitor (volts)', data: redCalDiode, yTicks: redCalTicks, color: RED},
  {title: 'MOS Depth  (meters)', data: mosDepth, yTicks: mosTicks, color: GREEN},
  {title: 'Depth Sensor Temp (deg C)', data: depthSensorTemp, yTicks: depthTempTicks, yMin: 25.2, color: GREEN},
  {title: 'X Tilt  (degrees)', data: xTilt, yTicks: xTiltTicks, color: GREEN},
  {title: 'Y Tilt  (degrees)', data: yTilt, yTicks: yTiltTicks, color: GREEN},
  {title: 'Inclination  (degrees)', data: inclination, yTicks: inclinationTicks, color: BLUE}
];

// ---------- layout / style ----------
const FONT = "'Liberation Sans', Arial, Helvetica, sans-serif";
const TICK_FONT_SIZE = 13;
const ROW_PITCH = 259.1, FIRST_TOP = 31, PLOT_H = 207, PAD_TOP = 40, CANVAS_H = 300;
const COLS = [
  {left: 0, width: 370, axisW: 98, padRight: 23},
  {left: 370, width: 380, axisW: 67, padRight: 63}
];

Chart.defaults.font.family = FONT;
Chart.defaults.color = '#000';

const framePlugin = {
  id: 'frame',
  afterDraw(chart, args, opts) {
    const ctx = chart.ctx, a = chart.chartArea;
    const xs = chart.scales.x, ys = chart.scales.y;
    ctx.save();
    ctx.strokeStyle = '#000';
    // inward tick marks
    ctx.lineWidth = 1.5;
    ctx.beginPath();
    xs.ticks.forEach(t => {
      const px = Math.round(xs.getPixelForValue(t.value)) + 0.5;
      ctx.moveTo(px, a.bottom); ctx.lineTo(px, a.bottom - 5);
      ctx.moveTo(px, a.top); ctx.lineTo(px, a.top + 5);
    });
    ys.ticks.forEach(t => {
      const py = Math.round(ys.getPixelForValue(t.value)) + 0.5;
      ctx.moveTo(a.left, py); ctx.lineTo(a.left + 5, py);
      ctx.moveTo(a.right, py); ctx.lineTo(a.right - 5, py);
    });
    ctx.stroke();
    // box
    ctx.lineWidth = 2;
    ctx.strokeRect(a.left, a.top, a.right - a.left, a.bottom - a.top);
    // x title
    ctx.fillStyle = '#000';
    ctx.font = '16px ' + FONT;
    ctx.textAlign = 'center';
    ctx.textBaseline = 'alphabetic';
    ctx.fillText(xAxisTitle, (a.left + a.right) / 2 + 10, a.bottom + 39);
    // y title, placed left of the widest tick label
    ctx.font = TICK_FONT_SIZE + 'px ' + FONT;
    let maxW = 0;
    ys.ticks.forEach(t => { maxW = Math.max(maxW, ctx.measureText(String(t.label)).width); });
    const bx = a.left - 6 - maxW - 13;
    ctx.translate(bx, (a.top + a.bottom) / 2 - 16);
    ctx.rotate(-Math.PI / 2);
    ctx.font = '15px ' + FONT;
    try { ctx.letterSpacing = '0.4px'; } catch (e) {}
    ctx.fillText(opts.title, 0, 0);
    ctx.restore();
  }
};

panels.forEach((p, i) => {
  const row = Math.floor(i / 2), col = COLS[i % 2];
  const top = Math.round(FIRST_TOP + ROW_PITCH * row) - PAD_TOP;
  const cv = document.createElement('canvas');
  cv.width = col.width; cv.height = CANVAS_H;
  cv.style.left = col.left + 'px'; cv.style.top = top + 'px';
  cv.style.width = col.width + 'px'; cv.style.height = CANVAS_H + 'px';
  document.body.appendChild(cv);
  new Chart(cv, {
    type: 'line',
    data: {
      datasets: [{
        data: p.data.map(([x, y]) => ({x, y})),
        borderColor: p.color,
        borderWidth: 2,
        borderJoinStyle: 'round',
        pointRadius: 0,
        tension: 0,
        fill: false,
        clip: 0
      }]
    },
    options: {
      responsive: false,
      animation: false,
      events: [],
      layout: {padding: {top: PAD_TOP, right: col.padRight, bottom: 0, left: 0}},
      plugins: {legend: {display: false}, tooltip: {enabled: false}, frame: {title: p.title}},
      scales: {
        x: {
          type: 'linear', min: 2.3, max: 98.3,
          afterBuildTicks: s => { s.ticks = xTickValues.map(v => ({value: v})); },
          afterFit: s => { s.height = CANVAS_H - PAD_TOP - PLOT_H; },
          grid: {display: false, drawTicks: false},
          border: {display: false},
          ticks: {padding: 6, autoSkip: false, maxRotation: 0, color: '#000', font: {size: TICK_FONT_SIZE}, callback: v => String(v)}
        },
        y: {
          type: 'linear',
          min: (p.yMin !== undefined ? p.yMin : p.yTicks[0]),
          max: p.yTicks[p.yTicks.length - 1],
          afterBuildTicks: s => { s.ticks = p.yTicks.map(v => ({value: v})); },
          afterFit: s => { s.width = col.axisW; },
          grid: {display: false, drawTicks: false},
          border: {display: false},
          ticks: {padding: 6, autoSkip: false, color: '#000', font: {size: TICK_FONT_SIZE}, callback: v => String(v)}
        }
      }
    },
    plugins: [framePlugin]
  });
});
</script>
</body>
</html>
